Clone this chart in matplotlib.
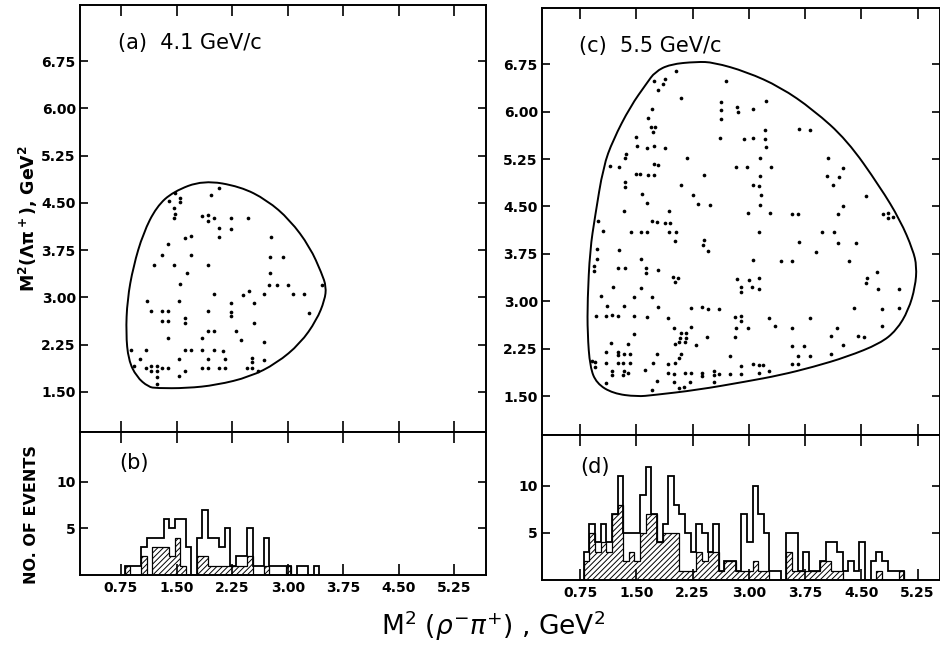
import numpy as np
import matplotlib
matplotlib.use('Agg')
import matplotlib.pyplot as plt
from matplotlib.path import Path
from matplotlib.patches import PathPatch

plt.rcParams['font.family'] = ['DejaVu Sans']
plt.rcParams['hatch.linewidth'] = 0.7

# ---------------- data ----------------
xticks = [0.75, 1.50, 2.25, 3.00, 3.75, 4.50, 5.25]
xtick_labels = ['0.75', '1.50', '2.25', '3.00', '3.75', '4.50', '5.25']
yticks = [1.50, 2.25, 3.00, 3.75, 4.50, 5.25, 6.00, 6.75]
ytick_labels = ['1.50', '2.25', '3.00', '3.75', '4.50', '5.25', '6.00', '6.75']
hist_yticks = [5, 10]

# Dalitz boundary, 4.1 GeV/c
bound_a_x = [1.86, 1.456, 1.23, 1.05, 0.916, 0.835, 0.817, 0.85, 0.96, 1.12, 1.23, 1.637,
             2.04, 2.49, 2.85, 3.17, 3.39, 3.50, 3.52, 3.46, 3.30, 3.03, 2.72, 2.36]
bound_a_y = [4.86, 4.68, 4.44, 4.02, 3.49, 2.96, 2.43, 2.01, 1.74, 1.58, 1.56, 1.56,
             1.61, 1.74, 1.955, 2.27, 2.64, 2.96, 3.17, 3.38, 3.80, 4.23, 4.545, 4.76]

# Dalitz boundary, 5.5 GeV/c
bound_c_x = [2.306, 2.53, 2.97, 3.42, 3.86, 4.31, 4.75, 5.02, 5.19, 5.24, 5.22, 5.13, 4.97,
             4.75, 4.31, 3.86, 3.42, 2.97, 2.31, 1.73, 1.51, 1.19, 0.97, 0.883, 0.85, 0.85,
             0.883, 0.95, 1.06, 1.19, 1.42, 1.64, 1.75, 1.95]
bound_c_y = [6.79, 6.78, 6.63, 6.39, 6.03, 5.55, 4.81, 4.28, 3.81, 3.55, 3.23, 2.86, 2.54,
             2.33, 2.12, 1.96, 1.83, 1.73, 1.595, 1.515, 1.49, 1.54, 1.70, 1.96, 2.49, 3.02,
             3.81, 4.34, 5.13, 5.55, 6.08, 6.45, 6.63, 6.75]

# events, 4.1 GeV/c  (M^2(rho- pi+), M^2(Lambda pi+))
ev_a = [
    (1.48, 4.66), (1.40, 4.53), (1.55, 4.57), (1.55, 4.51), (1.47, 4.42), (1.48, 4.32),
    (1.47, 4.26), (2.07, 4.73), (1.96, 4.62), (1.84, 4.29), (1.93, 4.31), (1.92, 4.22),
    (2.00, 4.26), (2.07, 4.10), (2.07, 3.96), (1.61, 3.95), (1.70, 3.98), (1.39, 3.84),
    (1.31, 3.67), (1.70, 3.67), (1.19, 3.52), (1.47, 3.52), (1.93, 3.52), (1.64, 3.38),
    (1.55, 3.22), (2.00, 3.05), (1.10, 2.94), (1.53, 2.94), (1.16, 2.78), (1.31, 2.78),
    (1.39, 2.78), (1.93, 2.78), (1.31, 2.63), (1.39, 2.63), (1.61, 2.67), (1.61, 2.59),
    (1.93, 2.47), (2.00, 2.47), (1.39, 2.35), (1.84, 2.35), (0.89, 2.17), (1.09, 2.17),
    (1.61, 2.17), (1.70, 2.17), (1.84, 2.17), (2.00, 2.17), (2.13, 2.15), (1.01, 2.03),
    (1.53, 2.03), (1.92, 2.03), (2.15, 2.03), (0.93, 1.91), (1.09, 1.88), (1.16, 1.91),
    (1.16, 1.84), (1.23, 1.91), (1.23, 1.84), (1.30, 1.88), (1.39, 1.88), (1.61, 1.84),
    (1.84, 1.88), (1.92, 1.88), (2.07, 1.88), (2.15, 1.88), (1.23, 1.73), (1.53, 1.75),
    (1.23, 1.63), (2.24, 4.26), (2.46, 4.26), (2.24, 4.08), (2.78, 3.96), (2.76, 3.64),
    (2.93, 3.64), (2.76, 3.39), (2.75, 3.20), (2.85, 3.20), (3.00, 3.20), (3.46, 3.19),
    (2.48, 3.11), (2.39, 3.04), (2.68, 3.05), (3.07, 3.05), (3.22, 3.05), (2.24, 2.91),
    (2.54, 2.91), (2.24, 2.77), (2.24, 2.71), (3.29, 2.76), (2.54, 2.59), (2.30, 2.46),
    (2.37, 2.32), (2.68, 2.30), (2.52, 2.04), (2.52, 1.97), (2.68, 2.01), (2.45, 1.88),
    (2.52, 1.88), (2.60, 1.84),
]

# events, 5.5 GeV/c
ev_c = [
    (2.03, 6.65), (1.74, 6.49), (1.88, 6.52), (1.86, 6.44), (1.79, 6.35), (2.70, 6.48),
    (2.10, 6.21), (2.63, 6.16), (2.84, 6.07), (2.86, 5.99), (2.63, 6.02), (3.06, 6.04),
    (1.71, 6.04), (1.65, 5.90), (1.70, 5.75), (1.75, 5.75), (1.72, 5.68), (2.63, 5.88),
    (2.62, 5.58), (2.93, 5.56), (3.06, 5.58), (1.50, 5.60), (1.51, 5.46), (1.64, 5.42),
    (1.74, 5.45), (1.88, 5.43), (1.36, 5.33), (1.35, 5.26), (2.17, 5.26), (1.15, 5.14),
    (1.27, 5.13), (1.73, 5.17), (1.79, 5.15), (2.83, 5.12), (2.97, 5.13), (1.49, 5.01),
    (1.55, 5.01), (1.65, 4.99), (1.73, 5.00), (2.40, 5.00), (1.35, 4.88), (1.35, 4.80),
    (2.10, 4.84), (3.06, 4.84), (1.58, 4.69), (2.25, 4.68), (1.64, 4.55), (2.32, 4.54),
    (2.48, 4.53), (1.34, 4.42), (1.94, 4.42), (2.99, 4.40), (0.99, 4.27), (1.71, 4.27),
    (1.78, 4.25), (1.88, 4.24), (1.95, 4.24),
    (3.23, 6.17), (3.22, 5.71), (3.21, 5.57), (3.23, 5.44), (3.15, 5.27), (3.30, 5.12),
    (3.15, 4.98), (3.14, 4.83), (3.16, 4.68), (3.15, 4.53), (3.28, 4.40), (3.57, 4.38),
    (3.65, 4.38), (3.67, 5.72), (3.82, 5.71), (4.05, 5.27), (4.26, 5.11), (4.04, 4.98),
    (4.20, 4.96), (4.12, 4.84), (4.56, 4.67), (4.26, 4.51), (4.19, 4.38), (4.79, 4.38),
    (4.86, 4.40), (4.85, 4.31), (4.92, 4.34),
    (1.05, 4.11), (1.43, 4.10), (1.56, 4.10), (1.64, 4.10), (1.93, 4.10), (2.03, 4.09),
    (2.01, 3.95), (2.40, 3.97), (2.39, 3.89), (2.46, 3.80), (0.97, 3.83), (1.27, 3.81),
    (0.98, 3.67), (1.56, 3.67), (3.06, 3.65), (0.93, 3.55), (0.93, 3.48), (1.25, 3.52),
    (1.35, 3.52), (1.63, 3.53), (1.63, 3.44), (1.79, 3.50), (1.99, 3.39), (2.05, 3.37),
    (2.01, 3.30), (2.84, 3.35), (3.00, 3.34), (2.90, 3.22), (3.04, 3.22), (2.90, 3.14),
    (1.19, 3.22), (1.56, 3.21), (1.03, 3.08), (1.47, 3.07), (1.71, 3.06), (1.11, 2.92),
    (1.34, 2.93), (1.79, 2.91), (2.23, 2.90), (2.37, 2.91), (2.46, 2.88), (2.60, 2.87),
    (0.96, 2.77), (1.10, 2.76), (1.17, 2.78), (1.26, 2.77), (1.47, 2.77), (1.64, 2.75),
    (1.92, 2.73), (2.82, 2.75), (2.90, 2.77), (2.90, 2.69), (2.00, 2.58), (2.23, 2.59),
    (2.83, 2.57), (2.99, 2.57), (1.47, 2.48), (2.10, 2.49), (2.16, 2.49), (2.08, 2.42),
    (2.16, 2.42), (2.07, 2.36), (2.15, 2.36), (2.44, 2.43), (2.82, 2.44), (1.16, 2.34),
    (1.39, 2.33), (2.01, 2.32), (2.29, 2.31), (1.09, 2.19), (1.26, 2.20), (1.25, 2.15),
    (1.34, 2.16), (1.42, 2.17), (1.77, 2.16), (2.10, 2.17), (2.07, 2.10), (2.75, 2.14),
    (0.91, 2.05), (0.95, 2.04), (0.95, 1.96), (1.09, 2.03), (1.25, 2.02), (1.32, 2.03),
    (1.42, 2.02), (1.72, 2.03), (1.92, 2.01), (2.02, 2.03), (2.89, 1.98), (3.06, 2.00),
    (1.17, 1.90), (1.17, 1.83), (1.33, 1.90), (1.32, 1.83), (1.39, 1.86), (1.62, 1.91),
    (1.92, 1.86), (2.00, 1.85), (2.15, 1.87), (2.23, 1.87), (2.37, 1.87), (2.38, 1.82),
    (2.53, 1.90), (2.54, 1.83), (2.60, 1.85), (2.75, 1.85), (2.90, 1.85), (1.09, 1.71),
    (1.78, 1.73), (2.00, 1.72), (2.21, 1.72), (2.53, 1.72), (2.07, 1.63), (2.14, 1.64),
    (1.71, 1.59),
    (3.14, 4.10), (3.97, 4.09), (4.13, 4.09), (3.67, 3.94), (4.19, 3.92), (4.43, 3.92),
    (3.89, 3.78), (3.43, 3.64), (3.58, 3.64), (4.34, 3.64), (4.71, 3.47), (3.14, 3.36),
    (4.57, 3.37), (4.56, 3.29), (3.13, 3.19), (4.72, 3.19), (5.00, 3.19), (4.40, 2.89),
    (4.77, 2.88), (5.00, 2.90), (3.27, 2.74), (3.81, 2.74), (3.35, 2.60), (3.58, 2.57),
    (4.18, 2.58), (4.77, 2.60), (4.10, 2.45), (4.46, 2.45), (4.53, 2.44), (3.57, 2.29),
    (3.74, 2.29), (4.26, 2.30), (3.66, 2.14), (3.81, 2.14), (4.10, 2.16), (3.13, 1.99),
    (3.19, 1.99), (3.57, 2.00), (3.65, 2.00), (3.14, 1.87), (3.27, 1.89),
]

# histograms: bins of 0.075 GeV^2 starting at 0.80
bin_start = 0.80
bin_width = 0.075
b_total = [1, 1, 1, 3, 4, 4, 4, 6, 5, 6, 6, 3, 0, 4, 7, 4, 4, 3, 5, 1,
           2, 2, 5, 1, 1, 4, 1, 1, 1, 1, 0, 1, 1, 0, 1]
b_hatched = [1, 0, 0, 2, 0, 3, 3, 3, 2, 4, 1, 0, 0, 2, 2, 1, 1, 1, 1, 1,
             1, 1, 2, 0, 0, 1, 0, 0, 0, 1, 0, 0, 0, 0, 0]
d_total = [3, 6, 4, 6, 4, 7, 11, 5, 5, 5, 9, 12, 7, 4, 6, 11, 8, 7, 5, 3,
           6, 5, 3, 6, 1, 2, 2, 1, 7, 4, 10, 7, 5, 1, 1, 0, 5, 5, 1, 3,
           1, 1, 2, 4, 4, 3, 1, 2, 1, 4, 0, 2, 3, 2, 1, 1, 1]
d_hatched = [2, 5, 3, 4, 3, 7, 8, 2, 3, 2, 5, 7, 7, 4, 5, 5, 5, 1, 1, 1,
             3, 2, 3, 3, 1, 2, 2, 1, 1, 1, 2, 1, 1, 0, 0, 0, 3, 1, 1, 1,
             1, 1, 2, 2, 1, 1, 0, 0, 0, 0, 0, 0, 1, 0, 0, 0, 1]

# ---------------- figure ----------------
W, H = 940, 652
fig = plt.figure(figsize=(W / 100, H / 100), dpi=100)


def rect(l, t, r, b):
    return [l / W, 1 - b / H, (r - l) / W, (b - t) / H]


axA = fig.add_axes(rect(80, 5, 486, 432))
axB = fig.add_axes(rect(80, 432, 486, 575))
axC = fig.add_axes(rect(542, 8, 940, 435))
axD = fig.add_axes(rect(542, 435, 940, 580))

tick_font = dict(fontsize=10, fontweight='bold')


def smooth_closed(x, y):
    p = np.column_stack([x, y])
    mids = (p + np.roll(p, -1, axis=0)) / 2
    verts = [mids[-1]]
    codes = [Path.MOVETO]
    for i in range(len(p)):
        verts += [p[i], mids[i]]
        codes += [Path.CURVE3, Path.CURVE3]
    return Path(verts, codes)


def style(ax):
    for s in ax.spines.values():
        s.set_linewidth(1.4)
    ax.tick_params(axis='both', which='both', direction='in', top=True, right=True,
                   width=1.2, colors='black')
    ax.tick_params(axis='x', length=8)
    ax.tick_params(axis='y', length=6, pad=3)


def dalitz(ax, bx, by, ev, xlim, ylim, label):
    ax.add_patch(PathPatch(smooth_closed(bx, by), facecolor='none', edgecolor='black', lw=1.4))
    ex = [e[0] for e in ev]
    ey = [e[1] for e in ev]
    ax.scatter(ex, ey, s=7, color='black', linewidths=0)
    ax.set_xlim(*xlim)
    ax.set_ylim(*ylim)
    ax.set_xticks(xticks)
    ax.set_xticklabels([])
    ax.set_yticks(yticks)
    ax.set_yticklabels(ytick_labels, **tick_font)
    style(ax)
    ax.text(0.094, 0.912, label, transform=ax.transAxes, fontsize=15, va='center', ha='left')


def histo(ax, tot, hat, xlim, ylim, label):
    edges = bin_start + bin_width * np.arange(len(tot) + 1)
    ax.bar(edges[:-1], hat, width=bin_width, align='edge', fill=False, hatch='//////',
           edgecolor='black', linewidth=0)
    ax.stairs(hat, edges, color='black', lw=0.9)
    ax.stairs(tot, edges, color='black', lw=1.3)
    ax.set_xlim(*xlim)
    ax.set_ylim(*ylim)
    ax.set_xticks(xticks)
    ax.set_xticklabels(xtick_labels, **tick_font)
    ax.set_yticks(hist_yticks)
    ax.set_yticklabels([str(v) for v in hist_yticks], **tick_font)
    style(ax)
    ax.tick_params(axis='x', pad=4)
    ax.text(0.096, 0.78, label, transform=ax.transAxes, fontsize=15, va='center', ha='left')


dalitz(axA, bound_a_x, bound_a_y, ev_a, (0.197, 5.676), (0.865, 7.64), '(a)  4.1 GeV/c')
dalitz(axC, bound_c_x, bound_c_y, ev_c, (0.243, 5.55), (0.883, 7.64), '(c)  5.5 GeV/c')
histo(axB, b_total, b_hatched, (0.197, 5.676), (0, 15.3), '(b)')
histo(axD, d_total, d_hatched, (0.243, 5.55), (0, 15.4), '(d)')

axA.set_ylabel(r'M$^\mathbf{2}$($\mathbf{\Lambda\pi^+}$), GeV$^\mathbf{2}$',
               fontsize=12.5, fontweight='bold')
axB.set_ylabel('NO. OF EVENTS', fontsize=11.5, fontweight='bold')
axA.yaxis.set_label_coords(-0.098, 0.50)
axB.yaxis.set_label_coords(-0.10, 0.42)

fig.text(0.525, 0.04, r'M$^2$ ($\rho^{-}\pi^{+}$) , GeV$^2$', fontsize=19,
         ha='center', va='center')

fig.savefig('out.png', dpi=100, facecolor='white')
